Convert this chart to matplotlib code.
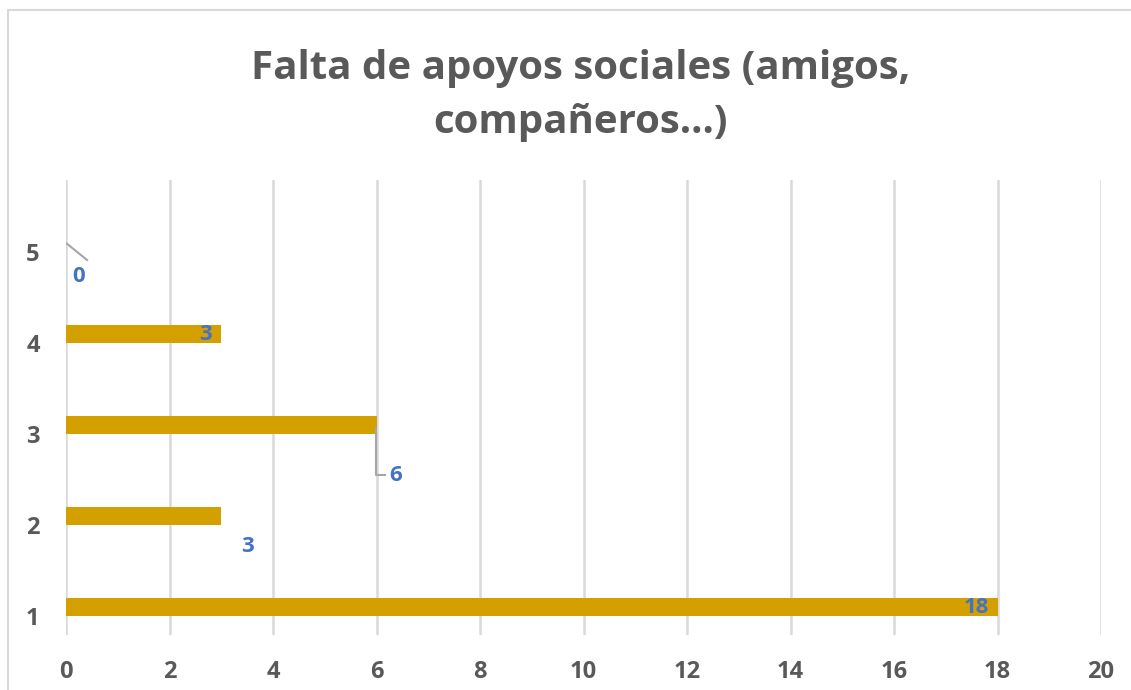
import matplotlib.pyplot as plt
from matplotlib.lines import Line2D

categories = [1, 2, 3, 4, 5]
values = [18, 3, 6, 3, 0]
x_ticks = list(range(0, 21, 2))
title = "Falta de apoyos sociales (amigos,\ncompañeros...)"

# where Excel dropped each data label (data coords)
label_pos = [(17.6, 0.99), (3.5, 1.67), (6.36, 2.44), (2.69, 3.99), (0.25, 4.63)]

bar_color = "#D4A000"
label_color = "#4472C4"
text_color = "#595959"
grid_color = "#D9D9D9"
leader_color = "#A6A6A6"

plt.rcParams["font.family"] = ["Open Sans", "DejaVu Sans"]

fig = plt.figure(figsize=(11.31, 6.9), dpi=100)
ax = fig.add_axes([0.0584, 0.0797, 0.9151, 0.6594])

ax.barh(categories, values, height=0.19, color=bar_color, zorder=3)

ax.set_xlim(0, 20)
ax.set_ylim(0.692, 5.692)
ax.set_xticks(x_ticks)
ax.set_yticks(categories)
ax.tick_params(length=0, labelsize=17, labelcolor=text_color)
ax.tick_params(axis="x", pad=18)
ax.tick_params(axis="y", pad=19)
for lab in ax.get_xticklabels() + ax.get_yticklabels():
    lab.set_fontweight("bold")
for lab in ax.get_yticklabels():
    lab.set_va("top")

ax.grid(axis="x", color=grid_color, linewidth=1.8, zorder=0)
ax.grid(axis="y", visible=False)
for s in ax.spines.values():
    s.set_visible(False)

for v, (lx, ly) in zip(values, label_pos):
    ax.text(lx, ly, str(v), color=label_color, fontsize=16, fontweight="bold",
            ha="center", va="center", zorder=5)

# leader lines
ax.plot([0, 0.406], [5.0, 4.813], color=leader_color, linewidth=1.5, zorder=4)
ax.plot([5.99, 5.99, 6.16], [2.967, 2.45, 2.45], color=leader_color,
        linewidth=1.5, zorder=4)

fig.text(0.513, 0.862, title, ha="center", va="center", fontsize=29,
         fontweight="bold", color=text_color, linespacing=1.5)

# chart border (top/left visible in crop)
fig.add_artist(Line2D([8 / 1131, 1.01], [1 - 10 / 690] * 2, transform=fig.transFigure,
                      color=grid_color, linewidth=1.5))
fig.add_artist(Line2D([8 / 1131] * 2, [1 - 10 / 690, -0.01], transform=fig.transFigure,
                      color=grid_color, linewidth=1.5))

fig.savefig("out.png", dpi=100)
